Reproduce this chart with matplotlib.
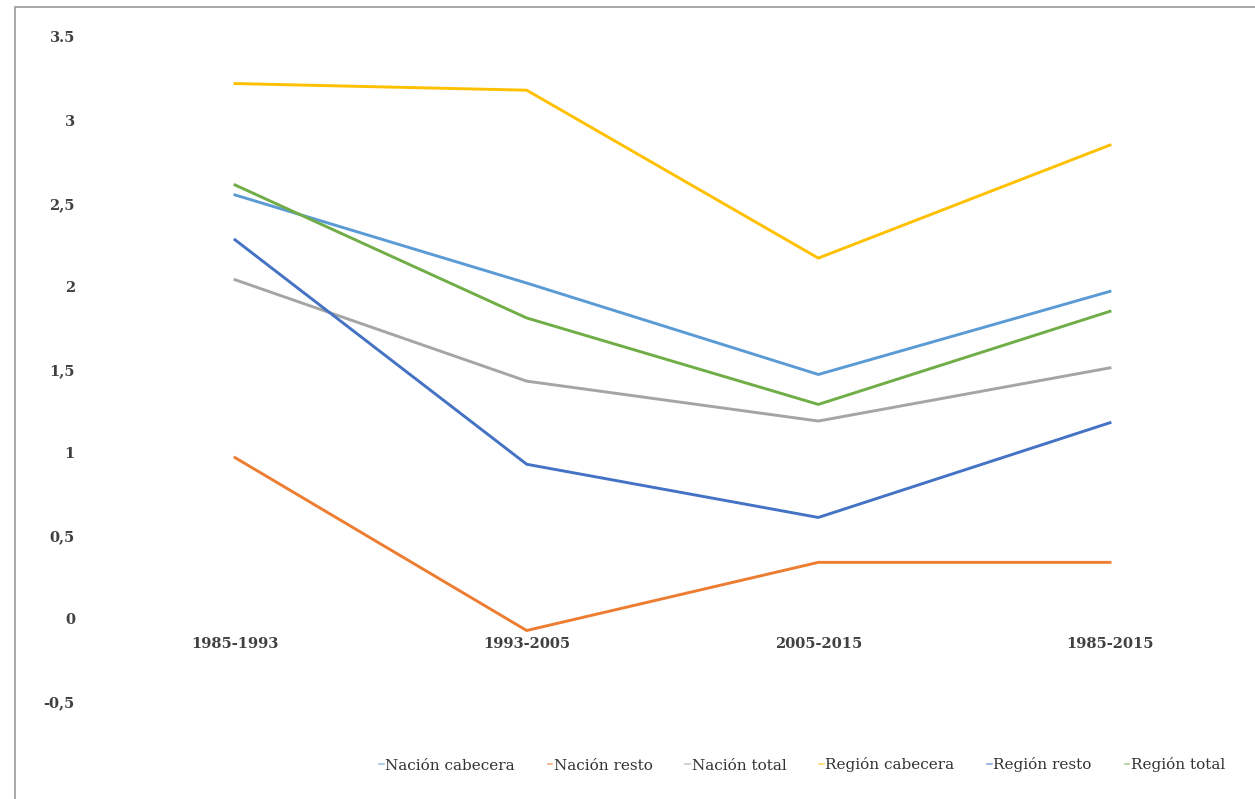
import matplotlib.pyplot as plt
from matplotlib.patches import Rectangle

# Datos
periodos = ['1985-1993', '1993-2005', '2005-2015', '1985-2015']
nacion_cabecera = [2.55, 2.02, 1.47, 1.97]
nacion_resto = [0.97, -0.07, 0.34, 0.34]
nacion_total = [2.04, 1.43, 1.19, 1.51]
region_cabecera = [3.22, 3.18, 2.17, 2.85]
region_resto = [2.28, 0.93, 0.61, 1.18]
region_total = [2.61, 1.81, 1.29, 1.85]

series = [
    ('Nación cabecera', nacion_cabecera, '#5B9BD5'),
    ('Nación resto', nacion_resto, '#ED7D31'),
    ('Nación total', nacion_total, '#A5A5A5'),
    ('Región cabecera', region_cabecera, '#FFC000'),
    ('Región resto', region_resto, '#4472C4'),
    ('Región total', region_total, '#70AD47'),
]

yticks = [-0.5, 0, 0.5, 1, 1.5, 2, 2.5, 3, 3.5]
ytick_labels = ['-0,5', '0', '0,5', '1', '1,5', '2', '2,5', '3', '3.5']

plt.rcParams['font.family'] = ['DejaVu Serif']

fig = plt.figure(figsize=(12.55, 7.99), dpi=100)
# marco gris alrededor del grafico
fig.patches.append(Rectangle((15 / 1255, -0.05), 1.1, (799 - 7) / 799 + 0.05,
                             transform=fig.transFigure, fill=False,
                             edgecolor='#9a9a9a', linewidth=1.2))

ax = fig.add_axes([100 / 1255, 97 / 799, 1145 / 1255, 665 / 799])
x = list(range(len(periodos)))
for nombre, valores, color in series:
    ax.plot(x, valores, color=color, linewidth=2.1, label=nombre,
            solid_joinstyle='round')

ax.set_xlim(-0.463, 3.463)
ax.set_ylim(-0.5, 3.5)
ax.set_yticks(yticks)
ax.set_yticklabels(ytick_labels)
ax.set_xticks(x)
ax.set_xticklabels(periodos)

for s in ['top', 'right', 'left']:
    ax.spines[s].set_visible(False)
ax.spines['bottom'].set_position(('data', 0))
ax.spines['bottom'].set_visible(False)
ax.tick_params(axis='y', length=0, pad=18, labelsize=10.5, labelcolor='#404040')
ax.tick_params(axis='x', length=0, pad=13, labelsize=10.5, labelcolor='#404040')
for t in ax.get_xticklabels() + ax.get_yticklabels():
    t.set_fontweight('bold')

leg = ax.legend(loc='center', bbox_to_anchor=(802 / 1255, 34 / 799),
                bbox_transform=fig.transFigure, ncol=6, frameon=False,
                handlelength=0.3, handletextpad=0.1, columnspacing=2.15,
                fontsize=11)
for t in leg.get_texts():
    t.set_color('#333333')
for h in leg.get_lines():
    h.set_linewidth(1.2)
    h.set_alpha(0.6)

plt.savefig('out.png', dpi=100, facecolor='white')
